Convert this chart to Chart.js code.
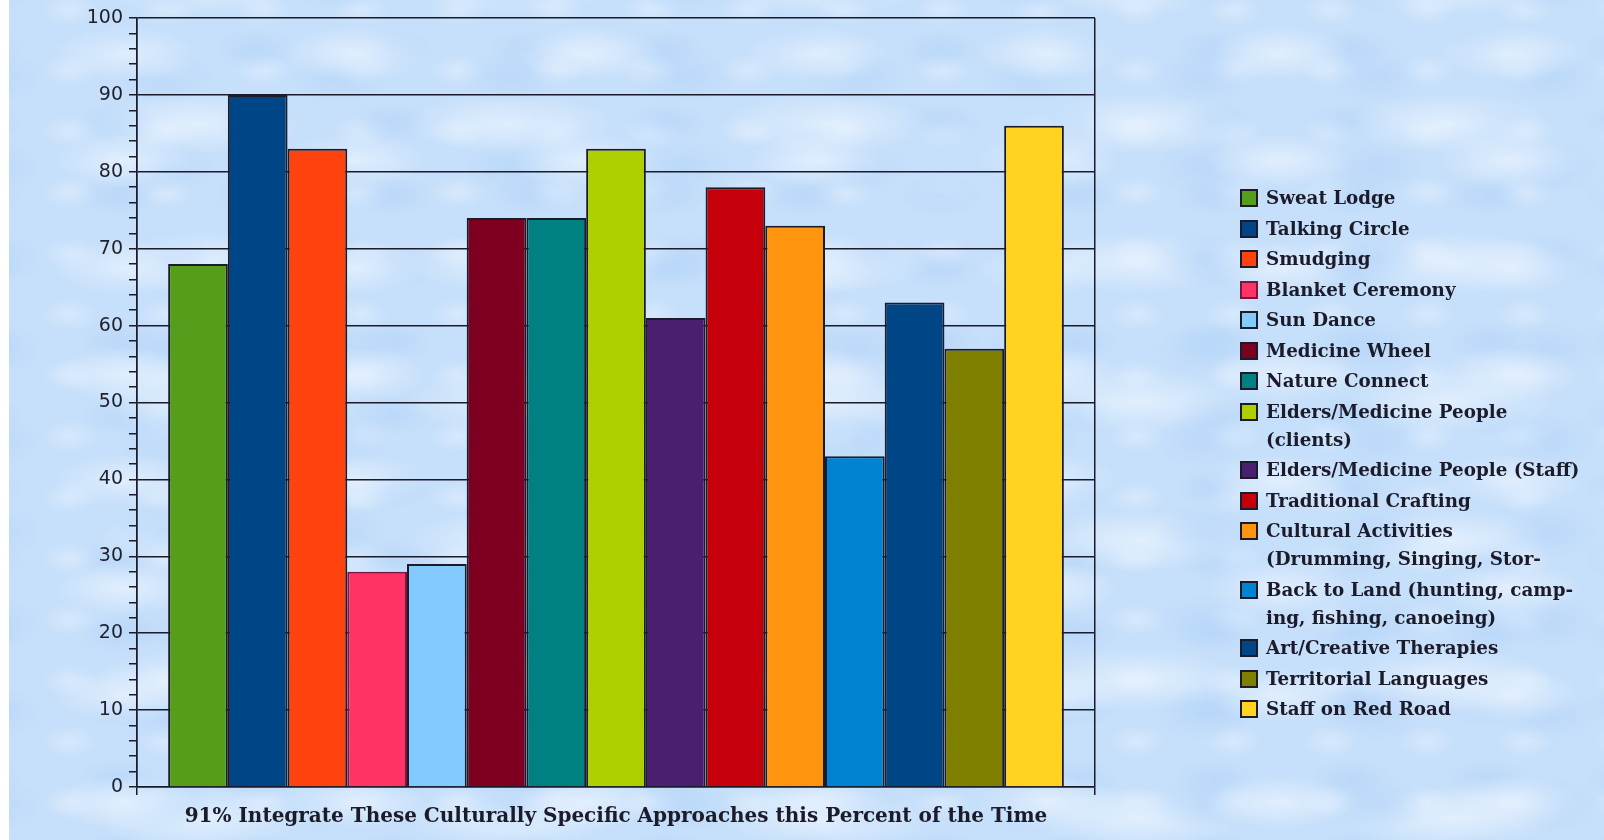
<!DOCTYPE html>
<html>
<head>
<meta charset="utf-8">
<title>Culturally Specific Approaches</title>
<script src="https://cdn.jsdelivr.net/npm/chart.js@4.4.1/dist/chart.umd.min.js"></script>
<style>
  html, body { margin: 0; padding: 0; background: #ffffff; }
  body { width: 1604px; height: 840px; position: relative; overflow: hidden; }
  .sky {
    position: absolute; left: 9px; top: 0; right: 0; bottom: 0;
    background-color: #c6dffa;
    background-image:
      radial-gradient(ellipse 42% 34% at 50% 50%, rgba(228,240,254,0.9), rgba(228,240,254,0) 75%),
      radial-gradient(ellipse 38% 40% at 50% 50%, rgba(180,213,249,0.6), rgba(180,213,249,0) 75%),
      radial-gradient(ellipse 45% 30% at 50% 50%, rgba(234,244,255,0.75), rgba(234,244,255,0) 75%),
      radial-gradient(ellipse 40% 38% at 50% 50%, rgba(172,208,248,0.45), rgba(172,208,248,0) 75%),
      radial-gradient(ellipse 40% 36% at 50% 50%, rgba(226,239,254,0.6), rgba(226,239,254,0) 75%);
    background-size: 231px 107px, 173px 91px, 313px 139px, 137px 73px, 97px 61px;
    background-position: 0 0, 70px 31px, 33px 54px, 41px 13px, 12px 40px;
  }
  #wrap { position: absolute; left: 0; top: 0; width: 1604px; height: 840px; }
  #legend {
    position: absolute; left: 1240px; top: 184px;
    font-family: "DejaVu Serif", serif; font-weight: bold; font-size: 18.3px; color: #1b1b2a;
  }
  .item { position: relative; padding-left: 26px; line-height: 28px; margin-bottom: 2.5px; white-space: nowrap; }
  .item .sw {
    position: absolute; left: 0; top: 5px; width: 14px; height: 14px;
    border: 2px solid #1b1b2a;
  }
</style>
</head>
<body>
<div class="sky"></div>
<div id="wrap"><canvas id="chart"></canvas></div>
<div id="legend"></div>
<script>
// Approaches (legend entries), one bar each
const approaches = [
  ['Sweat Lodge'],
  ['Talking Circle'],
  ['Smudging'],
  ['Blanket Ceremony'],
  ['Sun Dance'],
  ['Medicine Wheel'],
  ['Nature Connect'],
  ['Elders/Medicine People', '(clients)'],
  ['Elders/Medicine People (Staff)'],
  ['Traditional Crafting'],
  ['Cultural Activities', '(Drumming, Singing, Stor-'],
  ['Back to Land (hunting, camp-', 'ing, fishing, canoeing)'],
  ['Art/Creative Therapies'],
  ['Territorial Languages'],
  ['Staff on Red Road'],
];

// Percent of the time each approach is integrated
const percents = [68, 90, 83, 28, 29, 74, 74, 83, 61, 78, 73, 43, 63, 57, 86];

const yTicks = [0, 10, 20, 30, 40, 50, 60, 70, 80, 90, 100];

const axisTitle = '91% Integrate These Culturally Specific Approaches this Percent of the Time';

const barColors = [
  '#579d1c', '#004586', '#ff420e', '#ff3366', '#83caff',
  '#7e0021', '#008080', '#aecf00', '#4b1f6f', '#c5000b',
  '#ff950e', '#0084d1', '#004586', '#808000', '#ffd320',
];

const ink = '#1b1b2a';

const datasets = approaches.map((lines, i) => ({
  label: lines.join(' '),
  data: [percents[i]],
  backgroundColor: barColors[i],
  borderColor: i === 3 ? '#7a1640' : ink,
  borderWidth: 2,
  borderSkipped: 'bottom',
}));

const chart = new Chart(document.getElementById('chart'), {
  type: 'bar',
  data: { labels: [''], datasets },
  options: {
    responsive: true,
    maintainAspectRatio: false,
    animation: false,
    categoryPercentage: 0.935,
    barPercentage: 1,
    layout: { padding: { top: 18, right: 509, left: 0, bottom: 0 } },
    plugins: {
      legend: { display: false },
      tooltip: { enabled: false },
    },
    scales: {
      x: {
        afterFit: (scale) => { scale.height = 53; },
        ticks: { display: false },
        grid: { color: ink, lineWidth: 1.5, tickLength: 8, offset: true },
        border: { color: ink, width: 1.5 },
        title: {
          display: true,
          text: axisTitle,
          color: ink,
          font: { family: 'DejaVu Serif', size: 20, weight: 'bold' },
          padding: { top: 0, bottom: 11 },
        },
      },
      y: {
        min: 0,
        max: 100,
        afterFit: (scale) => { scale.width = 137; },
        ticks: {
          stepSize: 2,
          autoSkip: false,
          padding: 6,
          color: '#1f1f2a',
          font: { family: 'DejaVu Sans', size: 19 },
          callback: (v) => (yTicks.includes(v) ? v : ''),
        },
        grid: {
          lineWidth: 1.5,
          tickLength: 8,
          color: (ctx) => (ctx.tick && yTicks.includes(ctx.tick.value) ? ink : 'rgba(0,0,0,0)'),
          tickColor: ink,
        },
        border: { color: ink, width: 1.5 },
      },
    },
  },
});

// Legend built from the chart's datasets so wrapped names keep their lines
const legendEl = document.getElementById('legend');
legendEl.innerHTML = chart.data.datasets
  .map((ds, i) => `
    <div class="item">
      <span class="sw" style="background:${ds.backgroundColor};${i === 3 ? 'border-color:#7a1640;' : ''}"></span>
      ${approaches[i].join('<br>')}
    </div>`)
  .join('');
</script>
</body>
</html>
